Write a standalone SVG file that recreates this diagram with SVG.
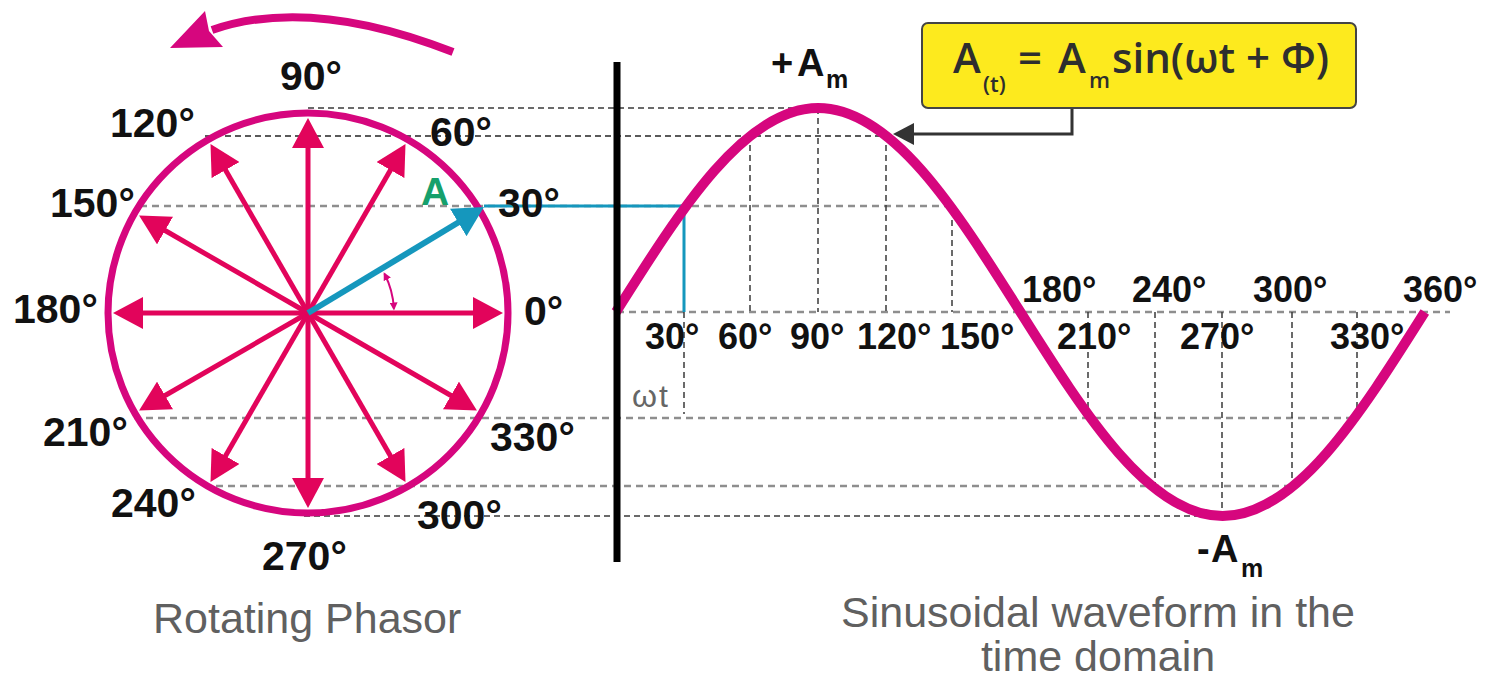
<svg xmlns="http://www.w3.org/2000/svg" width="1493" height="682" viewBox="0 0 1493 682">
  <style>
    .lbl { font-family: "Liberation Sans", Arial, sans-serif; font-weight: bold; fill: #111; }
    .ph { font-size: 41px; }
    .ax { font-size: 36px; }
    .cap { font-family: "Liberation Sans", Arial, sans-serif; font-size: 43px; fill: #606060; }
    .dg { fill: none; stroke: #8e8e8e; stroke-width: 2.6; stroke-dasharray: 7 5; }
    .dk { fill: none; stroke: #3a3a3a; stroke-width: 1.5; stroke-dasharray: 6 4; }
    .ph-arrow { stroke: #e2045b; stroke-width: 5; fill: none; marker-end: url(#redHead); }
  </style>
  <defs>
    <marker id="redHead" viewBox="0 0 30 32" refX="13" refY="16" markerWidth="30" markerHeight="32" markerUnits="userSpaceOnUse" orient="auto">
      <path d="M0,0 L30,16 L0,32 Z" fill="#e2045b"/>
    </marker>
    <marker id="cyanHead" viewBox="0 0 30 32" refX="13" refY="16" markerWidth="30" markerHeight="32" markerUnits="userSpaceOnUse" orient="auto">
      <path d="M0,0 L30,16 L0,32 Z" fill="#1597bd"/>
    </marker>
    <marker id="smallHead" viewBox="0 0 8 8" refX="6" refY="4" markerWidth="8" markerHeight="8" markerUnits="userSpaceOnUse" orient="auto-start-reverse">
      <path d="M0,0 L8,4 L0,8 Z" fill="#d6067e"/>
    </marker>
  </defs>

  <!-- connectors: projection lines and pointer -->
  <g id="connectors">
    <path class="dk" d="M308,108 H818"/>
    <path class="dk" d="M205,136 H888" style="stroke:#5a5a5a;stroke-width:2"/>
    <path class="dg" d="M140,206 H952"/>
    <path class="dg" d="M617,312 H1450"/>
    <path class="dg" d="M134,418 H1357"/>
    <path class="dg" d="M204,486 H1290"/>
    <path class="dk" d="M304,516 H1200"/>
    <!-- vertical projections -->
    <path class="dk" d="M684,312 V414"/>
    <path class="dk" d="M750,135 V312"/>
    <path class="dk" d="M818,108 V312"/>
    <path class="dk" d="M886,135 V312"/>
    <path class="dk" d="M952,210 V312"/>
    <path class="dk" d="M1088,312 V414"/>
    <path class="dk" d="M1155,312 V489"/>
    <path class="dk" d="M1222,312 V516"/>
    <path class="dk" d="M1292,312 V489"/>
    <path class="dk" d="M1357,312 V414"/>
    <!-- cyan projection of phasor A -->
    <path d="M484,206 H684 V312" fill="none" stroke="#1597bd" stroke-width="3"/>
    <!-- formula pointer -->
    <path d="M1072,108 V134 H912" fill="none" stroke="#333" stroke-width="3"/>
    <polygon points="893,134 914,123 914,145" fill="#333"/>
  </g>

  <!-- rotation arrow -->
  <g id="rotation-arrow">
    <path d="M453,52 Q310,-4 212,30" fill="none" stroke="#d6067e" stroke-width="8"/>
    <polygon points="170,48 205,11 209,31 223,47" fill="#d6067e"/>
  </g>

  <!-- phasor circle -->
  <g id="phasor">
    <circle cx="308" cy="313" r="200" fill="none" stroke="#d6067e" stroke-width="7"/>
    <path class="ph-arrow" d="M308,313 L486,313"/>
    <path class="ph-arrow" d="M308,313 L397,158.8"/>
    <path class="ph-arrow" d="M308,313 L308,135"/>
    <path class="ph-arrow" d="M308,313 L219,158.8"/>
    <path class="ph-arrow" d="M308,313 L153.8,224"/>
    <path class="ph-arrow" d="M308,313 L130,313"/>
    <path class="ph-arrow" d="M308,313 L153.8,402"/>
    <path class="ph-arrow" d="M308,313 L219,467.2"/>
    <path class="ph-arrow" d="M308,313 L308,491"/>
    <path class="ph-arrow" d="M308,313 L397,467.2"/>
    <path class="ph-arrow" d="M308,313 L462.2,402"/>
    <path d="M308,313 L469.4,215.8" stroke="#1597bd" stroke-width="6" fill="none" marker-end="url(#cyanHead)"/>
    <path d="M393.9,308.5 A86,86 0 0,0 384.6,274" fill="none" stroke="#d6067e" stroke-width="2" marker-start="url(#smallHead)" marker-end="url(#smallHead)"/>
  </g>

  <!-- waveform -->
  <g id="waveform">
    <path d="M616,312 C681.9,207.5 745,108 818.2,108 C891.4,108 954.5,207.5 1020.4,312 C1086.3,416.5 1149.4,516 1222.6,516 C1295.8,516 1358.9,416.5 1424.8,312" fill="none" stroke="#d6067e" stroke-width="10"/>
    <path d="M617,62 V562" stroke="#000" stroke-width="7"/>
  </g>

  <!-- phasor labels -->
  <g id="phasor-labels" class="lbl ph">
    <text x="280" y="90">90°</text>
    <text x="110" y="137">120°</text>
    <text x="430" y="146">60°</text>
    <text x="50" y="217">150°</text>
    <text x="498" y="217">30°</text>
    <text x="13" y="323">180°</text>
    <text x="524" y="325">0°</text>
    <text x="43" y="446">210°</text>
    <text x="490" y="451">330°</text>
    <text x="111" y="517">240°</text>
    <text x="417" y="529">300°</text>
    <text x="262" y="570">270°</text>
    <text x="421" y="205" style="font-size:39px;fill:#16a06c">A</text>
  </g>

  <!-- axis labels -->
  <g id="axis-labels" class="lbl ax">
    <text x="1022" y="302">180°</text>
    <text x="1132" y="302">240°</text>
    <text x="1253" y="302">300°</text>
    <text x="1403" y="302">360°</text>
    <text x="645" y="349">30°</text>
    <text x="718" y="349">60°</text>
    <text x="790" y="349">90°</text>
    <text x="857" y="349">120°</text>
    <text x="940" y="349">150°</text>
    <text x="1057" y="349">210°</text>
    <text x="1180" y="349">270°</text>
    <text x="1330" y="349">330°</text>
    <text x="632" y="407" style="font-weight:normal;font-size:32px;fill:#666;letter-spacing:2px">ωt</text>
  </g>

  <!-- amplitude labels -->
  <g id="amp-max" class="lbl">
    <text style="font-size:38px"><tspan x="771" y="76">+</tspan><tspan x="797" y="76">A</tspan><tspan x="826" y="88" style="font-size:25px">m</tspan></text>
  </g>
  <g id="amp-min" class="lbl">
    <text style="font-size:38px"><tspan x="1197" y="562">-</tspan><tspan x="1211" y="562">A</tspan><tspan x="1241" y="577" style="font-size:25px">m</tspan></text>
  </g>

  <!-- formula box -->
  <g id="formula">
    <rect x="922" y="23" width="434" height="85" rx="6" ry="6" fill="#fdea1e" stroke="#444" stroke-width="2"/>
    <text style="font-family:'Open Sans','Liberation Sans',sans-serif;font-weight:600;fill:#2e2e2e;font-size:42px">
      <tspan x="953" y="73">A</tspan><tspan x="983" y="92" style="font-size:22px">(t)</tspan><tspan x="1018" y="73">=</tspan><tspan x="1058" y="73">A</tspan><tspan x="1089" y="88" style="font-size:22px">m</tspan><tspan x="1112" y="73">sin(ωt + Φ)</tspan>
    </text>
  </g>

  <!-- captions -->
  <g id="captions">
    <text class="cap" x="153" y="633">Rotating Phasor</text>
    <text class="cap" x="1098" y="627" text-anchor="middle">Sinusoidal waveform in the</text>
    <text class="cap" x="1098" y="671" text-anchor="middle">time domain</text>
  </g>
</svg>
